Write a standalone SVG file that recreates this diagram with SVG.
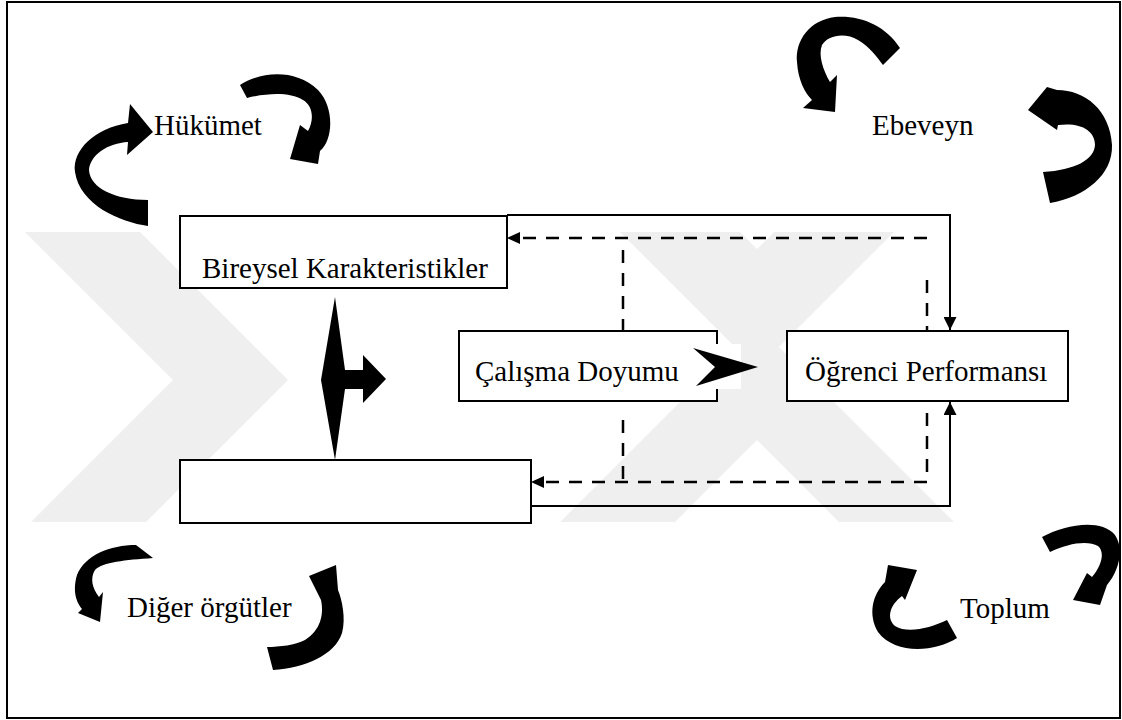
<svg xmlns="http://www.w3.org/2000/svg" width="1122" height="720" viewBox="0 0 1122 720">
<defs>
<style>
.lbl{font-family:"Liberation Serif","Times New Roman",serif;font-size:29px;fill:#000}
.box{fill:#fff;stroke:#000;stroke-width:2}
.solid{fill:none;stroke:#000;stroke-width:2}
.dash{fill:none;stroke:#000;stroke-width:2.5;stroke-dasharray:13 10}
.curl{fill:#000;stroke:none}
.wm{fill:#efefef;stroke:none}
</style>
<marker id="ah" viewBox="0 0 10 10" refX="10" refY="5" markerWidth="13" markerHeight="13" markerUnits="userSpaceOnUse" orient="auto">
<path d="M0,0 L10,5 L0,10 Z" fill="#000"/>
</marker>
</defs>
<rect x="0" y="0" width="1122" height="720" fill="#fff"/>
<g id="watermark">
<polygon class="wm" points="25,232 140,232 288,380 146,522 31,522 173,380"/>
<polygon class="wm" points="560,522 675,522 757,440 839,522 954,522 757,325"/>
<polygon class="wm" points="620,232 740,232 757,249 774,232 894,232 757,369"/>
</g>
<rect x="7" y="2" width="1113" height="716" fill="none" stroke="#000" stroke-width="2"/>
<g id="double-arrow">
<rect x="320" y="295" width="68" height="164" fill="#fff"/>
<polygon fill="#000" points="335,297 345,370 363,370 363,355 386,379 363,403 363,389 345,389 335,460 321,380"/>
</g>
<g id="connectors">
<path class="solid" d="M507,215 H950 V330" marker-end="url(#ah)"/>
<path class="solid" d="M531,506 H950 V402" marker-end="url(#ah)"/>
<path class="dash" d="M927,238 H520"/>
<path d="M507,238 L520,232 L520,244 Z" fill="#000"/>
<path class="dash" d="M927,482 H544"/>
<path d="M531,482 L544,476 L544,488 Z" fill="#000"/>
<path class="dash" d="M623,250 V331"/>
<path class="dash" d="M623,420 V482"/>
<path class="dash" d="M927,280 V344"/>
<path class="dash" d="M927,413 V482"/>
</g>
<g id="node-bireysel">
<rect class="box" x="180" y="216" width="327" height="72"/>
<text class="lbl" x="202" y="278">Bireysel Karakteristikler</text>
</g>
<g id="node-bottom">
<rect class="box" x="180" y="460" width="351" height="63"/>
</g>
<g id="node-calisma">
<rect class="box" x="459" y="331" width="258" height="70"/>
<text class="lbl" x="475" y="381">Çalışma Doyumu</text>
</g>
<g id="node-ogrenci">
<rect class="box" x="787" y="331" width="281" height="70"/>
<text class="lbl" x="805" y="381">Öğrenci Performansı</text>
</g>
<g id="arrow-calisma-ogrenci">
<rect x="693" y="344" width="48" height="45" fill="#fff"/>
<polygon fill="#000" points="693,348 758,367 696,386 715,367"/>
</g>
<g id="node-hukumet">
<text class="lbl" x="154" y="135">Hükümet</text>
<path class="curl" d="M148,226 C120,222 80,205 75,172 C72,150 95,128 128,123 L130,104 L153,132 L127,155 L128,142 C108,143 90,155 89,170 C90,188 115,200 148,200 Z"/>
<path class="curl" d="M240,85 C260,72 295,68 318,90 C335,108 333,140 320,151 L318,164 L290,159 L300,125 L308,131 C315,118 312,105 303,100 C290,92 268,93 247,98 Z"/>
</g>
<g id="node-ebeveyn">
<text class="lbl" x="872" y="135">Ebeveyn</text>
<path class="curl" d="M900,48 C885,25 860,15 835,17 C810,20 795,40 797,62 C798,80 805,93 812,100 L803,108 L835,112 L837,75 L830,82 C823,70 818,55 822,45 C828,35 845,32 858,40 C870,47 877,57 883,65 Z"/>
<path class="curl" d="M1050,203 C1085,197 1113,175 1112,145 C1110,110 1085,90 1057,90 L1047,87 L1028,110 L1057,130 L1058,125 C1080,122 1095,130 1095,145 C1094,160 1075,170 1043,172 Z"/>
</g>
<g id="node-diger">
<text class="lbl" x="127" y="617">Diğer örgütler</text>
<path class="curl" d="M136,545 C110,545 85,555 77,575 C72,592 77,603 82,609 L78,613 L100,622 L103,592 L99,597 C92,588 90,578 95,570 C103,562 125,560 153,558 Z"/>
<path class="curl" d="M273,670 C305,668 335,655 342,633 C346,618 342,600 338,590 L336,565 L309,576 L321,600 C324,614 321,630 305,640 C295,645 280,647 267,647 Z"/>
</g>
<g id="node-toplum">
<text class="lbl" x="960" y="618">Toplum</text>
<path class="curl" d="M957,638 C935,652 895,655 878,632 C868,615 872,595 885,582 L888,565 L917,570 L905,600 L902,596 C890,605 886,618 895,626 C908,634 930,628 947,620 Z"/>
<path class="curl" d="M1042,537 C1065,525 1100,518 1115,535 C1125,550 1118,572 1107,585 L1100,605 L1073,600 L1087,573 L1092,577 C1102,565 1105,552 1098,546 C1088,540 1068,543 1050,552 Z"/>
</g>
</svg>
